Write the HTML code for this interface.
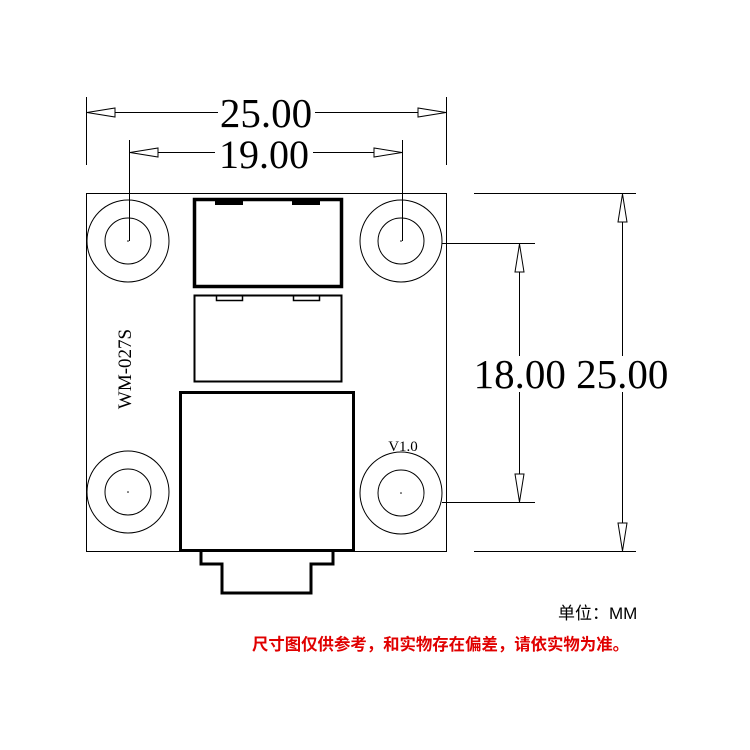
<!DOCTYPE html>
<html><head><meta charset="utf-8"><style>
html,body{margin:0;padding:0;background:#fff;}
svg{display:block;}
</style></head><body>
<svg width="750" height="750" viewBox="0 0 750 750" xmlns="http://www.w3.org/2000/svg">
<rect width="750" height="750" fill="#fff"/>
<g stroke="#000" fill="none" stroke-width="1">
<rect x="86.5" y="193.5" width="360" height="358"/>
<circle cx="128" cy="241" r="41"/><circle cx="128" cy="241" r="23"/>
<circle cx="401" cy="241" r="41"/><circle cx="401" cy="241" r="23"/>
<circle cx="128" cy="492" r="41"/><circle cx="128" cy="492" r="23"/>
<circle cx="401" cy="493" r="41"/><circle cx="401" cy="493" r="23"/>
<rect x="194.5" y="199.5" width="147" height="87" stroke-width="3.5"/>
<rect x="194.5" y="295.5" width="147" height="86" stroke-width="2"/>
<rect x="216.5" y="295.5" width="26" height="5" stroke-width="1.5"/>
<rect x="293.5" y="295.5" width="26" height="5" stroke-width="1.5"/>
<rect x="180.5" y="392.5" width="173" height="158" stroke-width="3"/>
<path d="M201 551 V564 H222 V593 H311 V564 H333 V551" stroke-width="3"/>
<line x1="86.5" y1="97" x2="86.5" y2="165"/>
<line x1="446.5" y1="97" x2="446.5" y2="165"/>
<line x1="86" y1="112.5" x2="218" y2="112.5"/>
<line x1="315" y1="112.5" x2="446" y2="112.5"/>
<line x1="129.5" y1="140" x2="129.5" y2="241"/>
<line x1="402.5" y1="140" x2="402.5" y2="241"/>
<line x1="129" y1="152.5" x2="215" y2="152.5"/>
<line x1="313" y1="152.5" x2="402" y2="152.5"/>
<line x1="474" y1="193.5" x2="636" y2="193.5"/>
<line x1="474" y1="551.5" x2="636" y2="551.5"/>
<line x1="622.5" y1="193" x2="622.5" y2="356"/>
<line x1="622.5" y1="392" x2="622.5" y2="551"/>
<line x1="442" y1="243.5" x2="535" y2="243.5"/>
<line x1="442" y1="502.5" x2="535" y2="502.5"/>
<line x1="519.5" y1="243" x2="519.5" y2="356"/>
<line x1="519.5" y1="392" x2="519.5" y2="502"/>
<polygon points="87,112.5 115,108 115,117" fill="#fff"/>
<polygon points="446,112.5 418,108 418,117" fill="#fff"/>
<polygon points="130,152.5 158,148 158,157" fill="#fff"/>
<polygon points="402,152.5 374,148 374,157" fill="#fff"/>
<polygon points="622.5,194 618,222 627,222" fill="#fff"/>
<polygon points="622.5,551 618,523 627,523" fill="#fff"/>
<polygon points="519.5,244 515,272 524,272" fill="#fff"/>
<polygon points="519.5,502 515,474 524,474" fill="#fff"/>
</g>
<g fill="#000">
<rect x="215" y="199" width="28" height="6"/>
<rect x="292" y="199" width="28" height="6"/>
<circle cx="128" cy="241" r="0.8"/><circle cx="401" cy="241" r="0.8"/>
<circle cx="128" cy="492" r="0.8"/><circle cx="401" cy="493" r="0.8"/>
</g>
<g font-family="Liberation Serif, serif" fill="#000">
<text x="266" y="127" font-size="41" text-anchor="middle">25.00</text>
<text x="264" y="168" font-size="40" text-anchor="middle">19.00</text>
<text x="571" y="388" font-size="41" text-anchor="middle">18.00 25.00</text>
<text x="403" y="451" font-size="15" text-anchor="middle">V1.0</text>
<text transform="translate(131,369) rotate(-90)" font-size="19" text-anchor="middle">WM-027S</text>
</g>
<text x="558" y="619" font-family="Liberation Sans, 'Noto Sans CJK SC', sans-serif" font-size="17" fill="#000">单位：MM</text>
<text x="252" y="650" font-family="Liberation Sans, 'Noto Sans CJK SC', sans-serif" font-size="16.4" font-weight="bold" fill="#e00000">尺寸图仅供参考，和实物存在偏差，请依实物为准。</text>
</svg>
</body></html>
